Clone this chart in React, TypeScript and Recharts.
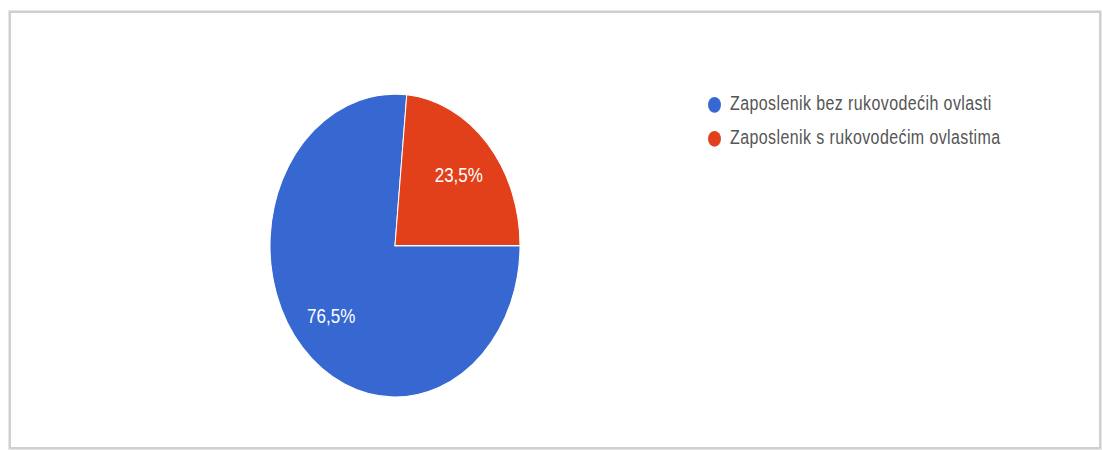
import React from "react";
import { PieChart, Pie, Cell, Legend } from "recharts";

const categories = ["Zaposlenik bez rukovodećih ovlasti", "Zaposlenik s rukovodećim ovlastima"];
const values = [76.5, 23.5];
const sliceLabels = ["76,5%", "23,5%"];
const colors = ["#3768d2", "#e2401a"];

const data = categories.map((name, i) => ({ name, value: values[i], label: sliceLabels[i] }));

const SCALE_Y = 1.212;
const RADIAN = Math.PI / 180;

const renderLabel = (props: any) => {
  const { cx, cy, midAngle, outerRadius, index } = props;
  const r = outerRadius * 0.69;
  const x = cx + r * Math.cos(-midAngle * RADIAN);
  const y = cy + r * Math.sin(-midAngle * RADIAN);
  return (
    <text
      x={x}
      y={y}
      fill="#ffffff"
      textAnchor="middle"
      dominantBaseline="central"
      fontFamily="'Liberation Sans', Arial, sans-serif"
      fontSize={17}
    >
      {data[index].label}
    </text>
  );
};

const renderLegend = () => (
  <div
    style={{
      fontFamily: "'Liberation Sans', Arial, sans-serif",
      fontSize: 16,
      letterSpacing: 0.4,
      color: "#555",
    }}
  >
    {data.map((d, i) => (
      <div key={d.name} style={{ display: "flex", alignItems: "center", height: 28 }}>
        <span
          style={{
            display: "inline-block",
            width: 13,
            height: 13,
            borderRadius: "50%",
            background: colors[i],
            marginRight: 9,
            flexShrink: 0,
          }}
        />
        <span style={{ whiteSpace: "nowrap" }}>{d.name}</span>
      </div>
    ))}
  </div>
);

export default function App() {
  return (
    <div style={{ position: "relative", width: 1102, height: 450, background: "#ffffff" }}>
      <style>{`html, body { margin: 0; padding: 0; overflow: hidden; }`}</style>
      <svg
        width={1102}
        height={450}
        style={{ position: "absolute", left: 0, top: 0 }}
      >
        <rect x={9.5} y={11.5} width={1091} height={437} fill="none" stroke="#e6e6e6" strokeWidth={3} />
        <rect x={10} y={12} width={1090} height={436} fill="none" stroke="#c8c8c8" strokeWidth={1.5} />
      </svg>
      <div
        style={{
          position: "absolute",
          left: 0,
          top: 0,
          transform: `scaleY(${SCALE_Y})`,
          transformOrigin: "0 0",
        }}
      >
        <PieChart width={1102} height={371} margin={{ top: 0, right: 0, bottom: 0, left: 0 }}>
          <Pie
            data={data}
            dataKey="value"
            nameKey="name"
            cx={395}
            cy={202.6}
            outerRadius={125}
            startAngle={0}
            endAngle={-360}
            stroke="#ffffff"
            strokeWidth={1}
            label={renderLabel}
            labelLine={false}
            isAnimationActive={false}
          >
            {data.map((d, i) => (
              <Cell key={d.name} fill={colors[i]} />
            ))}
          </Pie>
          <Legend
            content={renderLegend}
            wrapperStyle={{ position: "absolute", left: 708, top: 72, width: 380 }}
          />
        </PieChart>
      </div>
    </div>
  );
}
